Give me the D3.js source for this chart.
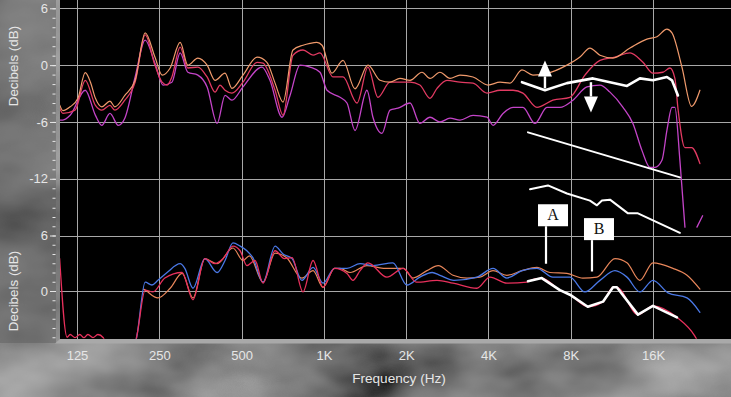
<!DOCTYPE html>
<html><head><meta charset="utf-8">
<script src="https://cdn.jsdelivr.net/npm/d3@7"></script>
<style>html,body{margin:0;padding:0;background:#3a3a3a;overflow:hidden}</style>
</head><body><svg id="c" width="731" height="397"></svg>
<script>
// ---------- DATA ----------
const freqTicks = [125, 250, 500, 1000, 2000, 4000, 8000, 16000];
const freqTickLabels = ["125", "250", "500", "1K", "2K", "4K", "8K", "16K"];
const topTicks = [6, 0, -6, -12];
const bottomTicks = [6, 0];

// Top panel: [Hz, dB]
const topOrange = [[108,-4.2],[111,-4.8],[118,-4.4],[126,-3.5],[134,-0.8],[140,-1.8],[146,-3.5],[154,-4.4],[165,-3.8],[172,-4.4],[187,-3.2],[204,-1.6],[222,3.4],[241,0.85],[256,-1.05],[274,-0.3],[298,2.4],[318,0],[346,0.75],[374,0],[400,-1.6],[435,-0.85],[461,-2.45],[506,-1.05],[570,0.85],[619,0.3],[663,-1.9],[709,-3.9],[771,1.6],[839,2.1],[890,2.3],[943,2.4],[985,2.1],[1070,-0.85],[1175,0.5],[1300,-2.5],[1450,0],[1604,-1.6],[1746,-1.8],[1899,-1.4],[2067,-1.6],[2286,-0.75],[2445,-1.4],[2659,-0.75],[2894,-1.4],[3148,-1.05],[3514,-1.25],[3987,-2.1],[4412,-1.8],[4797,-1.9],[5306,-0.5],[5822,-1.05],[6603,-0.85],[7749,0],[8647,0.85],[9407,1.8],[10235,1.05],[11422,0.75],[13183,1.8],[15201,2.75],[16542,3.0],[17989,3.8],[18774,3.4],[20411,-0.2],[22142,-4.35],[23757,-2.65]];
const topRed = [[108,-4.55],[111,-5.1],[123,-4.75],[134,-1.6],[146,-4.25],[154,-4.75],[165,-4.25],[172,-4.75],[187,-3.7],[204,-1.8],[222,3.2],[241,0],[256,-1.8],[267,-2.1],[278,-1.25],[298,1.9],[318,-0.3],[346,-0.2],[374,-1.25],[400,-2.85],[417,-2.1],[435,-2.65],[461,-2.95],[506,-1.8],[570,0.3],[599,0.2],[663,-2.65],[709,-5.3],[771,1.05],[839,1.6],[913,1.05],[968,1.3],[1080,-1.25],[1175,-1.25],[1322,-4.0],[1450,-0.2],[1577,-3.4],[1746,-1.8],[1932,-1.8],[2067,-1.8],[2245,-2.1],[2445,-3.5],[2594,-2.45],[2820,-1.6],[3148,-1.8],[3514,-1.9],[3953,-2.95],[4412,-2.65],[4921,-2.65],[5348,-2.95],[6018,-4.45],[6887,-3.7],[7946,-3.4],[9017,-1.05],[10235,0.5],[11616,0.85],[13183,1.3],[14703,0.3],[15991,-0.85],[17395,-0.75],[18461,-0.3],[19242,-1.4],[19740,-4.55],[20940,-8.7],[22142,-8.7],[23757,-10.4]];
const topMagenta = [[108,-5.8],[111,-5.8],[118,-5.3],[134,-2.65],[146,-5.3],[154,-6.35],[165,-5.1],[177,-6.35],[187,-5.6],[204,-1.25],[222,2.65],[241,0.2],[258,-2.1],[278,-1.8],[298,1.3],[318,-0.75],[346,-1.05],[374,-2.3],[407,-6.15],[435,-3.2],[461,-3.7],[506,-2.3],[594,-0.2],[635,-1.6],[703,-5.5],[752,-3.2],[818,0],[890,-0.2],[968,-0.75],[1027,-2.65],[1146,-3.4],[1215,-4.0],[1300,-6.9],[1438,-2.65],[1512,-5.5],[1632,-7.2],[1746,-4.75],[1867,-4.55],[2067,-4.0],[2245,-6.15],[2445,-5.5],[2659,-6.0],[2894,-5.6],[3148,-5.8],[3514,-5.3],[3953,-5.5],[4159,-6.35],[4522,-5.1],[4921,-4.45],[5348,-4.45],[5919,-6.15],[6550,-4.45],[7305,-4.45],[8152,-3.7],[9172,-2.3],[10235,-2.1],[11136,-2.85],[12428,-4.45],[13510,-6.15],[14576,-9.0],[15597,-10.8],[16266,-10.8],[17253,-10.05],[17989,-6.9],[18774,-4.45],[19242,-4.45],[20069,-10.05],[20940,-17.1]];
const topMagentaTail = [[23166,-17.1],[24300,-15.9]];

// Top panel annotations
const topWhite = [[5306,-1.8],[6440,-2.65],[7749,-1.9],[9650,-1.4],[11136,-1.8],[12850,-2.2],[14330,-1.4],[15991,-1.6],[17989,-1.25],[18774,-1.6],[19740,-3.2]];
const topSlope = [[5581,-7.1],[20069,-11.85]];
const topJagged = [[5678,-13.1],[6603,-12.7],[7749,-13.55],[9407,-14.3],[9977,-14.8],[10409,-14.3],[11136,-14.2],[12963,-15.65],[14094,-15.65],[20069,-17.7]];
const arrowsTop = [{f:6440, from:-2.45, to:0.5}, {f:9487, from:-1.8, to:-5.0}];

// Bottom panel: [Hz, dB]
const bottomBlue = [[204,-5.7],[207,-4.85],[222,0.95],[235,0.65],[247,1.15],[267,2.0],[298,2.95],[310,2.45],[332,0.3],[367,3.5],[407,2.0],[435,3.3],[465,5.2],[494,4.85],[523,4.35],[550,3.6],[599,0.95],[663,4.85],[709,4.0],[765,3.5],[831,1.15],[913,2.55],[993,0.85],[1094,2.45],[1215,2.45],[1357,2.95],[1512,2.75],[1790,3.05],[2014,0.65],[2245,1.5],[2490,2.0],[2659,1.7],[2992,1.15],[3630,1.5],[4159,2.45],[4672,1.4],[5306,2.2],[6018,2.45],[6887,1.5],[7946,1.5],[9017,-0.1],[10235,1.15],[11616,2.2],[12850,1.5],[14330,-0.1],[15991,1.15],[18151,-0.2],[21310,-0.75],[23757,-2.3]];
const bottomRed = [[108,3.5],[115,-5.0],[118,-4.7],[123,-5.05],[128,-4.7],[132.5,-5.05],[137,-4.7],[143,-5.05],[149,-4.7],[156,-5.05],[159.5,-5.6],[204,-5.7],[207,-4.85],[222,0.1],[237,-0.1],[262,1.4],[303,2.0],[332,-0.95],[367,3.5],[400,2.95],[428,3.5],[465,4.85],[494,4.35],[523,2.75],[560,3.3],[599,0.85],[663,4.35],[717,3.5],[765,3.6],[839,-0.1],[913,3.3],[993,0.4],[1094,2.45],[1215,1.9],[1278,1.15],[1357,2.2],[1450,3.05],[1700,1.5],[1952,2.45],[2180,0.95],[2594,1.15],[2968,0.85],[3630,0.3],[4052,1.5],[4672,0.85],[5536,0.95],[5581,1.05],[6270,1.4],[7305,0.1],[7946,-0.4],[9235,-1.7],[10500,-1.15],[11422,0.4],[11800,0.4],[14094,-2.55],[15991,-1.6],[19580,-2.85],[22740,-4.85],[23500,-5.6]];
const bottomOrange = [[219,0.2],[222,0.1],[247,-0.75],[274,0.3],[303,1.9],[332,-0.75],[367,3.5],[407,2.95],[465,4.65],[506,3.3],[534,3.8],[599,0.95],[663,4.1],[731,3.6],[831,1.4],[913,2.2],[993,0.4],[1094,2.45],[1146,2.45],[1248,2.0],[1438,2.75],[1651,2.45],[1952,2.45],[2118,1.4],[2383,2.2],[2620,2.75],[2968,1.7],[3340,1.4],[3720,1.5],[4159,2.2],[4672,1.7],[5306,2.2],[6018,2.55],[6715,2.0],[7749,1.9],[8860,1.4],[9977,1.5],[11616,3.5],[12850,3.05],[14330,1.15],[15991,3.05],[18920,2.45],[21310,1.7],[23757,0.2]];
const bottomWhite = [[5581,1.05],[6270,1.4],[7305,0.1],[7946,-0.4],[9235,-1.7],[10500,-1.15],[11422,0.4],[11800,0.4],[14094,-2.55],[15991,-1.6],[19580,-2.85]];
const callouts = [{text:"A", f:6497, tip:2.95, boxBottom:7.0}, {text:"B", f:9570, tip:2.1, boxBottom:5.5}];

// ---------- DRAW ----------
const W = 731, H = 397;
const svg = d3.select("#c");
const defs = svg.append("defs");

const flt = defs.append("filter").attr("id","smoke").attr("x",0).attr("y",0).attr("width","100%").attr("height","100%");
flt.append("feTurbulence").attr("type","fractalNoise").attr("baseFrequency","0.007 0.012").attr("numOctaves",4).attr("seed",11);
flt.append("feColorMatrix").attr("type","matrix")
  .attr("values","0.5 0 0 0 -0.02  0.5 0 0 0 -0.02  0.5 0 0 0 -0.02  0 0 0 0 1");
svg.append("rect").attr("width",W).attr("height",H).attr("filter","url(#smoke)");
// left strip tone
svg.append("rect").attr("x",0).attr("y",0).attr("width",56).attr("height",343).attr("fill","#5a5a5a").attr("opacity",0.45);

const plotL = 60, plotR = 731, plotB = 339;
const x = d3.scaleLog().base(2).domain([125,16000]).range([77,653]);
const yTop = d3.scaleLinear().domain([6,-12]).range([8.3,178.8]);
const yBot = d3.scaleLinear().domain([6,0]).range([235.5,291]);

svg.append("rect").attr("x",plotL).attr("y",0).attr("width",plotR-plotL).attr("height",plotB).attr("fill","#000");
// bottom gray bar
svg.append("polygon").attr("points",`55,343.5 60,339 ${W},339 ${W},343.5`).attr("fill","#a9a9a9");

// grid
const grid = svg.append("g").attr("stroke","#a8a8a8").attr("stroke-width",1).attr("shape-rendering","crispEdges");
grid.selectAll("line.v").data(freqTicks).join("line")
  .attr("x1",d=>Math.round(x(d))+0.5).attr("x2",d=>Math.round(x(d))+0.5).attr("y1",0).attr("y2",plotB);
grid.selectAll("line.ht").data(topTicks).join("line").attr("class","ht")
  .attr("x1",plotL).attr("x2",plotR).attr("y1",d=>Math.round(yTop(d))+0.5).attr("y2",d=>Math.round(yTop(d))+0.5);
grid.selectAll("line.hb").data(bottomTicks).join("line").attr("class","hb")
  .attr("x1",plotL).attr("x2",plotR).attr("y1",d=>Math.round(yBot(d))+0.5).attr("y2",d=>Math.round(yBot(d))+0.5);

// axes
const font = "'Liberation Sans', Arial, sans-serif";
function styleAxis(g){
  g.select(".domain").remove();
  g.selectAll("line").attr("stroke","#e6e6e6");
  g.selectAll("text").attr("fill","#e6e6e6").attr("font-family",font).attr("font-size",13);
}
svg.append("g").attr("transform","translate(55.5,0)")
  .call(d3.axisLeft(yTop).tickValues(d3.range(-14,7)).tickSize(3).tickFormat("")).call(styleAxis);
svg.append("g").attr("transform","translate(55.5,0)")
  .call(d3.axisLeft(yBot).tickValues(d3.range(-5,10)).tickSize(3).tickFormat("")).call(styleAxis);
svg.append("g").attr("transform","translate(56,0)")
  .call(d3.axisLeft(yTop).tickValues(topTicks).tickSize(6).tickPadding(2).tickFormat(d=>String(d))).call(styleAxis);
svg.append("g").attr("transform","translate(56,0)")
  .call(d3.axisLeft(yBot).tickValues(bottomTicks).tickSize(6).tickPadding(2).tickFormat(d=>String(d))).call(styleAxis);
svg.append("g").attr("transform","translate(0,343)")
  .call(d3.axisBottom(x).tickValues(freqTicks).tickSize(0).tickPadding(8).tickFormat((d,i)=>freqTickLabels[i])).call(styleAxis);

svg.append("text").attr("x",399).attr("y",383).attr("text-anchor","middle")
  .attr("fill","#e6e6e6").attr("font-family",font).attr("font-size",13.6).text("Frequency (Hz)");
[[yTop(-0.1)],[yBot(0)]].forEach(([cy])=>{
  svg.append("text").attr("transform",`translate(18,${cy}) rotate(-90)`).attr("text-anchor","middle")
    .attr("fill","#e6e6e6").attr("font-family",font).attr("font-size",13.4).text("Decibels (dB)");
});

// clip
defs.append("clipPath").attr("id","plotclip").append("rect")
  .attr("x",plotL).attr("y",0).attr("width",plotR-plotL).attr("height",plotB-0.3);
const plot = svg.append("g").attr("clip-path","url(#plotclip)");

const lineT = d3.line().x(d=>x(d[0])).y(d=>yTop(d[1])).curve(d3.curveMonotoneX);
const lineB = d3.line().x(d=>x(d[0])).y(d=>yBot(d[1])).curve(d3.curveMonotoneX);
const lineTL = d3.line().x(d=>x(d[0])).y(d=>yTop(d[1]));
const lineBL = d3.line().x(d=>x(d[0])).y(d=>yBot(d[1]));

function path(gen, data, color, w){
  plot.append("path").attr("d",gen(data)).attr("fill","none").attr("stroke",color)
    .attr("stroke-width",w).attr("stroke-linejoin","round").attr("stroke-linecap","round");
}
// top traces
path(lineT, topMagenta, "#c444c8", 1.3);
path(lineT, topMagentaTail, "#c444c8", 1.3);
path(lineT, topRed, "#e23a62", 1.3);
path(lineT, topOrange, "#f09a6c", 1.2);
// bottom traces
path(lineB, bottomOrange, "#e8865a", 1.2);
path(lineB, bottomBlue, "#4a78e6", 1.3);
path(lineB, bottomRed, "#e8305c", 1.3);

// annotations
path(lineTL, topWhite, "#ffffff", 2.6);
path(lineTL, topSlope, "#ffffff", 2.0);
path(lineTL, topJagged, "#ffffff", 2.0);
path(lineBL, bottomWhite, "#ffffff", 2.6);

arrowsTop.forEach(a=>{
  const ax = x(a.f), y0 = yTop(a.from), y1 = yTop(a.to);
  const dir = y1 < y0 ? 1 : -1;         // 1 = pointing up
  const headLen = 16, hw = 7;
  const yb = y1 + dir*headLen;
  plot.append("line").attr("x1",ax).attr("x2",ax).attr("y1",y0).attr("y2",yb)
    .attr("stroke","#fff").attr("stroke-width",2.4);
  plot.append("polygon").attr("points",`${ax},${y1} ${ax-hw},${yb} ${ax+hw},${yb}`).attr("fill","#fff");
});

callouts.forEach(c=>{
  const cx = x(c.f), yb = yBot(c.boxBottom), yt = yBot(c.tip);
  plot.append("line").attr("x1",cx).attr("x2",cx).attr("y1",yb).attr("y2",yt)
    .attr("stroke","#fff").attr("stroke-width",2.2);
  plot.append("rect").attr("x",cx-8).attr("y",yb-22).attr("width",30).attr("height",22).attr("fill","#fff");
  plot.append("text").attr("x",cx+7).attr("y",yb-6).attr("text-anchor","middle")
    .attr("font-family","'Liberation Serif', 'Times New Roman', serif").attr("font-size",16).attr("fill","#111").text(c.text);
});
</script>
</body></html>
